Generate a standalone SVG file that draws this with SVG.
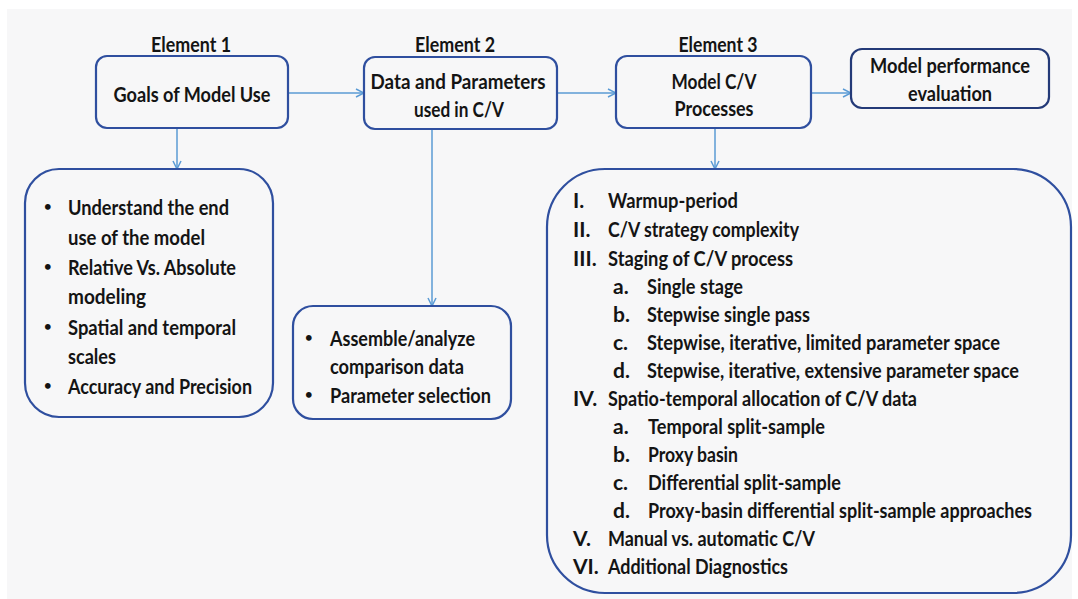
<svg xmlns="http://www.w3.org/2000/svg" width="1078" height="599" viewBox="0 0 1078 599">
  <defs>
    <style>
      text { font-family: Lato, "Open Sans", "Liberation Sans", sans-serif; font-weight: 700; font-size: 21px; fill: #141414; dominant-baseline: central; }
      .c { text-anchor: middle; }
      .b { font-size: 13px; }
      .box { fill: none; stroke: #2f4f9f; stroke-width: 2.2; }
      .box2 { fill: none; stroke: #243a78; stroke-width: 2.2; }
      .conn line { stroke: #5b9bd5; stroke-width: 1.5; fill: none; }
    </style>
    <marker id="arr" viewBox="0 0 10 10" refX="9" refY="5" markerWidth="10" markerHeight="10" markerUnits="userSpaceOnUse" orient="auto">
      <path d="M1,1 L9,5 L1,9" fill="none" stroke="#5b9bd5" stroke-width="1.5"/>
    </marker>
  </defs>

  <!-- canvas -->
  <rect x="0" y="0" width="1078" height="599" fill="#ffffff"/>
  <rect x="7" y="9" width="1065" height="590" fill="#f7f7f8"/>

  <!-- element headings -->
  <g id="headings">
    <text class="c" x="191" y="43" textLength="80" lengthAdjust="spacingAndGlyphs">Element 1</text>
    <text class="c" x="455" y="43" textLength="80" lengthAdjust="spacingAndGlyphs">Element 2</text>
    <text class="c" x="718" y="43" textLength="79" lengthAdjust="spacingAndGlyphs">Element 3</text>
  </g>

  <!-- connectors -->
  <g id="connectors" class="conn">
    <line x1="288" y1="93" x2="364" y2="93" marker-end="url(#arr)"/>
    <line x1="557" y1="93" x2="616" y2="93" marker-end="url(#arr)"/>
    <line x1="811" y1="93" x2="851" y2="93" marker-end="url(#arr)"/>
    <line x1="177" y1="128" x2="177" y2="169" marker-end="url(#arr)"/>
    <line x1="432" y1="129" x2="432" y2="306" marker-end="url(#arr)"/>
    <line x1="715" y1="128" x2="715" y2="169" marker-end="url(#arr)"/>
  </g>

  <g id="goals">
    <rect class="box" x="96" y="56" width="192" height="72" rx="11"/>
    <text class="c" x="192" y="93" textLength="157" lengthAdjust="spacingAndGlyphs">Goals of Model Use</text>
  </g>

  <g id="data-params">
    <rect class="box" x="364" y="57" width="193" height="72" rx="11"/>
    <text class="c" x="458" y="80" textLength="175" lengthAdjust="spacingAndGlyphs">Data and Parameters</text>
    <text class="c" x="459" y="108" textLength="90" lengthAdjust="spacingAndGlyphs">used in C/V</text>
  </g>

  <g id="cv-processes">
    <rect class="box" x="616" y="56" width="195" height="72" rx="11"/>
    <text class="c" x="714" y="80" textLength="85" lengthAdjust="spacingAndGlyphs">Model C/V</text>
    <text class="c" x="714" y="107" textLength="79" lengthAdjust="spacingAndGlyphs">Processes</text>
  </g>

  <g id="performance">
    <rect class="box2" x="851" y="49" width="198" height="59" rx="11"/>
    <text class="c" x="950" y="64" textLength="160" lengthAdjust="spacingAndGlyphs">Model performance</text>
    <text class="c" x="950" y="92" textLength="84" lengthAdjust="spacingAndGlyphs">evaluation</text>
  </g>

  <g id="goals-detail">
    <rect class="box" x="25" y="169" width="248" height="248" rx="34"/>
    <text class="b" x="44" y="206">•</text>
    <text x="68" y="206" textLength="161" lengthAdjust="spacingAndGlyphs">Understand the end</text>
    <text x="68" y="236" textLength="137" lengthAdjust="spacingAndGlyphs">use of the model</text>
    <text class="b" x="44" y="266">•</text>
    <text x="68" y="266" textLength="168" lengthAdjust="spacingAndGlyphs">Relative Vs. Absolute</text>
    <text x="68" y="295" textLength="78" lengthAdjust="spacingAndGlyphs">modeling</text>
    <text class="b" x="44" y="326">•</text>
    <text x="68" y="326" textLength="168" lengthAdjust="spacingAndGlyphs">Spatial and temporal</text>
    <text x="68" y="355" textLength="48" lengthAdjust="spacingAndGlyphs">scales</text>
    <text class="b" x="44" y="385">•</text>
    <text x="68" y="385" textLength="184" lengthAdjust="spacingAndGlyphs">Accuracy and Precision</text>
  </g>

  <g id="data-detail">
    <rect class="box" x="293" y="306" width="218" height="113" rx="20"/>
    <text class="b" x="305" y="337">•</text>
    <text x="330" y="337" textLength="145" lengthAdjust="spacingAndGlyphs">Assemble/analyze</text>
    <text x="330" y="365" textLength="134" lengthAdjust="spacingAndGlyphs">comparison data</text>
    <text class="b" x="305" y="394">•</text>
    <text x="330" y="394" textLength="161" lengthAdjust="spacingAndGlyphs">Parameter selection</text>
  </g>

  <g id="cv-detail">
    <rect class="box" x="547" y="169" width="524" height="424" rx="58"/>
    <text x="573" y="199">I.</text>
    <text x="608" y="199" textLength="130" lengthAdjust="spacingAndGlyphs">Warmup-period</text>
    <text x="573" y="228">II.</text>
    <text x="608" y="228" textLength="191" lengthAdjust="spacingAndGlyphs">C/V strategy complexity</text>
    <text x="573" y="257">III.</text>
    <text x="608" y="257" textLength="185" lengthAdjust="spacingAndGlyphs">Staging  of C/V process</text>
    <text x="613" y="285">a.</text>
    <text x="647" y="285" textLength="96" lengthAdjust="spacingAndGlyphs">Single stage</text>
    <text x="613" y="313">b.</text>
    <text x="647" y="313" textLength="163" lengthAdjust="spacingAndGlyphs">Stepwise single pass</text>
    <text x="613" y="341">c.</text>
    <text x="647" y="341" textLength="353" lengthAdjust="spacingAndGlyphs">Stepwise, iterative, limited parameter space</text>
    <text x="613" y="369">d.</text>
    <text x="647" y="369" textLength="372" lengthAdjust="spacingAndGlyphs">Stepwise, iterative, extensive parameter space</text>
    <text x="573" y="397">IV.</text>
    <text x="608" y="397" textLength="309" lengthAdjust="spacingAndGlyphs">Spatio-temporal allocation of C/V data</text>
    <text x="613" y="425">a.</text>
    <text x="648" y="425" textLength="177" lengthAdjust="spacingAndGlyphs">Temporal split-sample</text>
    <text x="613" y="453">b.</text>
    <text x="648" y="453" textLength="90" lengthAdjust="spacingAndGlyphs">Proxy basin</text>
    <text x="613" y="481">c.</text>
    <text x="648" y="481" textLength="193" lengthAdjust="spacingAndGlyphs">Differential split-sample</text>
    <text x="613" y="509">d.</text>
    <text x="648" y="509" textLength="384" lengthAdjust="spacingAndGlyphs">Proxy-basin differential split-sample approaches</text>
    <text x="573" y="537">V.</text>
    <text x="608" y="537" textLength="207" lengthAdjust="spacingAndGlyphs">Manual vs. automatic C/V</text>
    <text x="573" y="565">VI.</text>
    <text x="608" y="565" textLength="180" lengthAdjust="spacingAndGlyphs">Additional Diagnostics</text>
  </g>
</svg>
